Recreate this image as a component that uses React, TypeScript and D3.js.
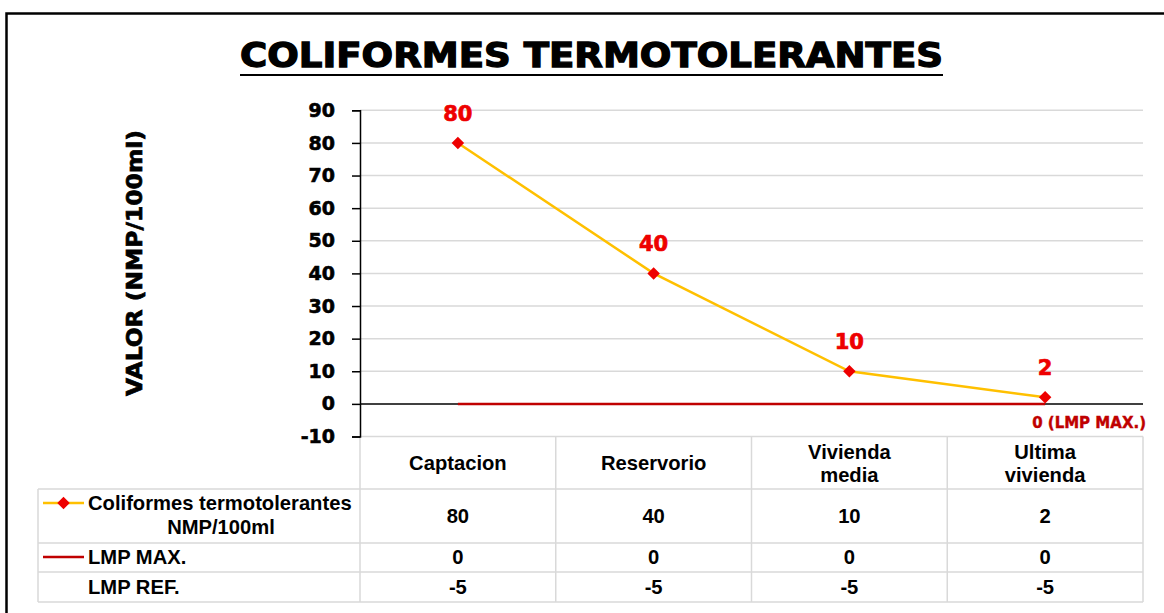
import * as d3 from "d3";
import { useEffect, useRef } from "react";

// chart data
const categories = ["Captacion", "Reservorio", "Vivienda media", "Ultima vivienda"];
const categoryLines = [["Captacion"], ["Reservorio"], ["Vivienda", "media"], ["Ultima", "vivienda"]];
const coliformes = [80, 40, 10, 2];
const lmpMax = [0, 0, 0, 0];
const lmpRef = [-5, -5, -5, -5];
const yTicks = [-10, 0, 10, 20, 30, 40, 50, 60, 70, 80, 90];

const HEAVY = "'DejaVu Sans', sans-serif";
const ARIAL = "'Liberation Sans', Arial, sans-serif";

const Chart = () => {
  const ref = useRef(null);

  useEffect(() => {
    var width = 1164;
    var height = 613;
    var gridColor = "#d9d9d9";

    var svg = d3
      .select(ref.current)
      .append("svg")
      .attr("width", width)
      .attr("height", height)
      .style("position", "absolute")
      .style("left", 0)
      .style("top", 0)
      .style("background", "#fff");

    var x = d3.scaleBand().domain(categories).range([360, 1143]);
    var y = d3.scaleLinear().domain([-10, 90]).range([436.5, 110.3]);
    var cx = (c: string) => (x(c) as number) + x.bandwidth() / 2;

    // outer frame (cut off at the right and bottom)
    svg
      .append("path")
      .attr("d", "M6.5,613 V13.5 H1164")
      .attr("fill", "none")
      .attr("stroke", "#000")
      .attr("stroke-width", 2.5);

    // title
    svg
      .append("text")
      .text("COLIFORMES TERMOTOLERANTES")
      .attr("x", 591.5)
      .attr("y", 67)
      .attr("text-anchor", "middle")
      .attr("textLength", 703)
      .attr("lengthAdjust", "spacingAndGlyphs")
      .attr("stroke", "#000")
      .attr("stroke-width", 1.3)
      .style("font-family", HEAVY)
      .style("font-weight", "bold")
      .style("font-size", "34px");
    svg
      .append("line")
      .attr("x1", 240)
      .attr("x2", 943)
      .attr("y1", 75)
      .attr("y2", 75)
      .attr("stroke", "#000")
      .attr("stroke-width", 2);

    // axis title
    svg
      .append("text")
      .text("VALOR (NMP/100ml)")
      .attr("transform", "translate(142,263) rotate(-90)")
      .attr("text-anchor", "middle")
      .attr("textLength", 266)
      .attr("lengthAdjust", "spacingAndGlyphs")
      .attr("stroke", "#000")
      .attr("stroke-width", 0.7)
      .style("font-family", HEAVY)
      .style("font-weight", "bold")
      .style("font-size", "21px");

    // gridlines
    svg
      .append("g")
      .selectAll("line")
      .data(yTicks.filter((t) => t !== 0))
      .enter()
      .append("line")
      .attr("x1", 360)
      .attr("x2", 1143)
      .attr("y1", (d) => y(d))
      .attr("y2", (d) => y(d))
      .attr("stroke", gridColor)
      .attr("stroke-width", 1.5);

    // data table grid
    var rowLines = [489, 543, 572, 602];
    svg
      .append("g")
      .selectAll("line")
      .data(rowLines)
      .enter()
      .append("line")
      .attr("x1", 38)
      .attr("x2", 1143)
      .attr("y1", (d) => d)
      .attr("y2", (d) => d)
      .attr("stroke", gridColor)
      .attr("stroke-width", 1.5);
    var colEdges = categories.map((c) => x(c) as number).concat([x.range()[1]]);
    svg
      .append("g")
      .selectAll("line")
      .data(colEdges)
      .enter()
      .append("line")
      .attr("x1", (d) => d)
      .attr("x2", (d) => d)
      .attr("y1", y(-10))
      .attr("y2", 602)
      .attr("stroke", gridColor)
      .attr("stroke-width", 1.5);
    svg
      .append("line")
      .attr("x1", 38)
      .attr("x2", 38)
      .attr("y1", 489)
      .attr("y2", 602)
      .attr("stroke", gridColor)
      .attr("stroke-width", 1.5);

    // zero line
    svg
      .append("line")
      .attr("x1", 360)
      .attr("x2", 1143)
      .attr("y1", y(0))
      .attr("y2", y(0))
      .attr("stroke", "#000")
      .attr("stroke-width", 1.5);

    // y axis
    var axis = svg
      .append("g")
      .attr("transform", "translate(360,0)")
      .call(d3.axisLeft(y).tickValues(yTicks).tickSize(8).tickFormat((d) => String(d)));
    axis.select(".domain").attr("stroke", "#000").attr("stroke-width", 1.5);
    axis.selectAll(".tick line").attr("stroke", "#000").attr("stroke-width", 1.5);
    axis
      .selectAll(".tick text")
      .attr("x", -25)
      .attr("fill", "#000")
      .attr("stroke", "#000")
      .attr("stroke-width", 0.6)
      .style("font-family", HEAVY)
      .style("font-weight", "bold")
      .style("font-size", "19px");

    // LMP MAX line
    var line = d3
      .line<number>()
      .x((d, i) => cx(categories[i]))
      .y((d) => y(d));
    svg
      .append("path")
      .attr("d", line(lmpMax) as string)
      .attr("fill", "none")
      .attr("stroke", "#c00000")
      .attr("stroke-width", 2.5);

    // coliformes line
    svg
      .append("path")
      .attr("d", line(coliformes) as string)
      .attr("fill", "none")
      .attr("stroke", "#ffc000")
      .attr("stroke-width", 2.5);

    var diamond = d3.symbol().type(d3.symbolDiamond2).size(100);
    svg
      .append("g")
      .selectAll("path")
      .data(coliformes)
      .enter()
      .append("path")
      .attr("d", diamond as any)
      .attr("transform", (d, i) => "translate(" + cx(categories[i]) + "," + y(d) + ")")
      .attr("fill", "#ee0000");

    // data labels
    svg
      .append("g")
      .selectAll("text")
      .data(coliformes)
      .enter()
      .append("text")
      .text((d) => d)
      .attr("x", (d, i) => cx(categories[i]))
      .attr("y", (d) => y(d) - 22)
      .attr("text-anchor", "middle")
      .attr("fill", "#ee0000")
      .attr("stroke", "#ee0000")
      .attr("stroke-width", 0.7)
      .style("font-family", HEAVY)
      .style("font-weight", "bold")
      .style("font-size", "21px");

    svg
      .append("text")
      .text("0 (LMP MAX.)")
      .attr("x", 1146)
      .attr("y", 428)
      .attr("text-anchor", "end")
      .attr("fill", "#c00000")
      .attr("stroke", "#c00000")
      .attr("stroke-width", 0.4)
      .style("font-family", HEAVY)
      .style("font-weight", "bold")
      .style("font-size", "15px");

    // table header
    var tableText = (sel: any) =>
      sel
        .attr("text-anchor", "middle")
        .attr("fill", "#000")
        .style("font-family", ARIAL)
        .style("font-weight", "bold")
        .style("font-size", "20.2px");

    categories.forEach((c, i) => {
      var lines = categoryLines[i];
      lines.forEach((l, j) => {
        var cy = lines.length === 1 ? 463 : 452 + j * 23;
        tableText(svg.append("text").text(l).attr("x", cx(c)).attr("y", cy).attr("dy", "0.35em"));
      });
    });

    // table rows
    var rows = [
      { values: coliformes, cy: 516 },
      { values: lmpMax, cy: 557 },
      { values: lmpRef, cy: 587 },
    ];
    rows.forEach((r) => {
      r.values.forEach((v, i) => {
        tableText(
          svg.append("text").text(String(v)).attr("x", cx(categories[i])).attr("y", r.cy).attr("dy", "0.35em")
        );
      });
    });

    // legend keys
    svg
      .append("line")
      .attr("x1", 43)
      .attr("x2", 84)
      .attr("y1", 503)
      .attr("y2", 503)
      .attr("stroke", "#ffc000")
      .attr("stroke-width", 2.5);
    svg
      .append("path")
      .attr("d", diamond as any)
      .attr("transform", "translate(63.5,503)")
      .attr("fill", "#ee0000");
    svg
      .append("line")
      .attr("x1", 43)
      .attr("x2", 84)
      .attr("y1", 557)
      .attr("y2", 557)
      .attr("stroke", "#c00000")
      .attr("stroke-width", 2.5);

    var legendText = (t: string, lx: number, ly: number, anchor: string) =>
      tableText(svg.append("text").text(t).attr("x", lx).attr("y", ly).attr("dy", "0.35em")).attr(
        "text-anchor",
        anchor
      );
    legendText("Coliformes termotolerantes", 88, 503, "start");
    legendText("NMP/100ml", 221, 527, "middle");
    legendText("LMP MAX.", 88, 557, "start");
    legendText("LMP REF.", 88, 587, "start");

    return function () {
      svg.remove();
    };
  }, []);

  return <div ref={ref} />;
};

export default function App() {
  return <Chart />;
}
